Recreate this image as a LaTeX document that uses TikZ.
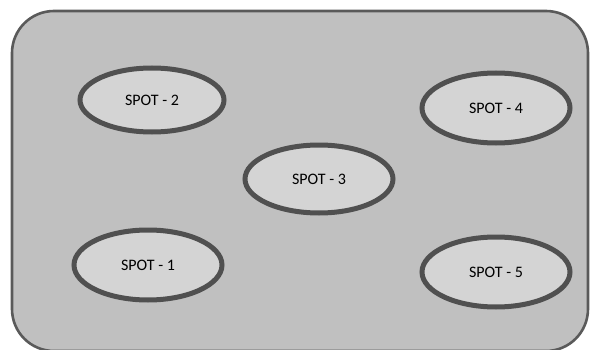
\documentclass[tikz,border=0pt]{standalone}
\usepackage{fontspec}
\setmainfont{Carlito}
\usetikzlibrary{shapes.geometric}
\definecolor{areafill}{HTML}{C0C0C0}
\definecolor{areaedge}{HTML}{5A5A5A}
\definecolor{spotfill}{HTML}{D4D4D4}
\definecolor{spotedge}{HTML}{505050}
\tikzset{
  spot/.style={ellipse, draw=spotedge, fill=spotfill, line width=5pt,
    minimum width=148pt, minimum height=68pt, inner sep=0pt,
    font=\fontsize{16}{18}\selectfont}
}
\begin{document}
\begin{tikzpicture}[x=1pt,y=1pt]
  \useasboundingbox (0,0) rectangle (590,349);
  \begin{scope}
    \clip (0,0) rectangle (590,349);
    % parking area
    \draw[draw=areaedge, fill=areafill, line width=2.6pt, rounded corners=42pt]
      (12,-2) rectangle (588,338);
  \end{scope}
  % spots
  \node[spot, minimum height=64pt, minimum width=144pt] (s2) at (152,249) {SPOT - 2};
  \node[spot, minimum height=70pt] (s4) at (496,241) {SPOT - 4};
  \node[spot] (s3) at (319,170) {SPOT - 3};
  \node[spot, minimum height=70pt] (s1) at (148,84) {SPOT - 1};
  \node[spot, minimum height=70pt] (s5) at (496,77) {SPOT - 5};
\end{tikzpicture}
\end{document}
